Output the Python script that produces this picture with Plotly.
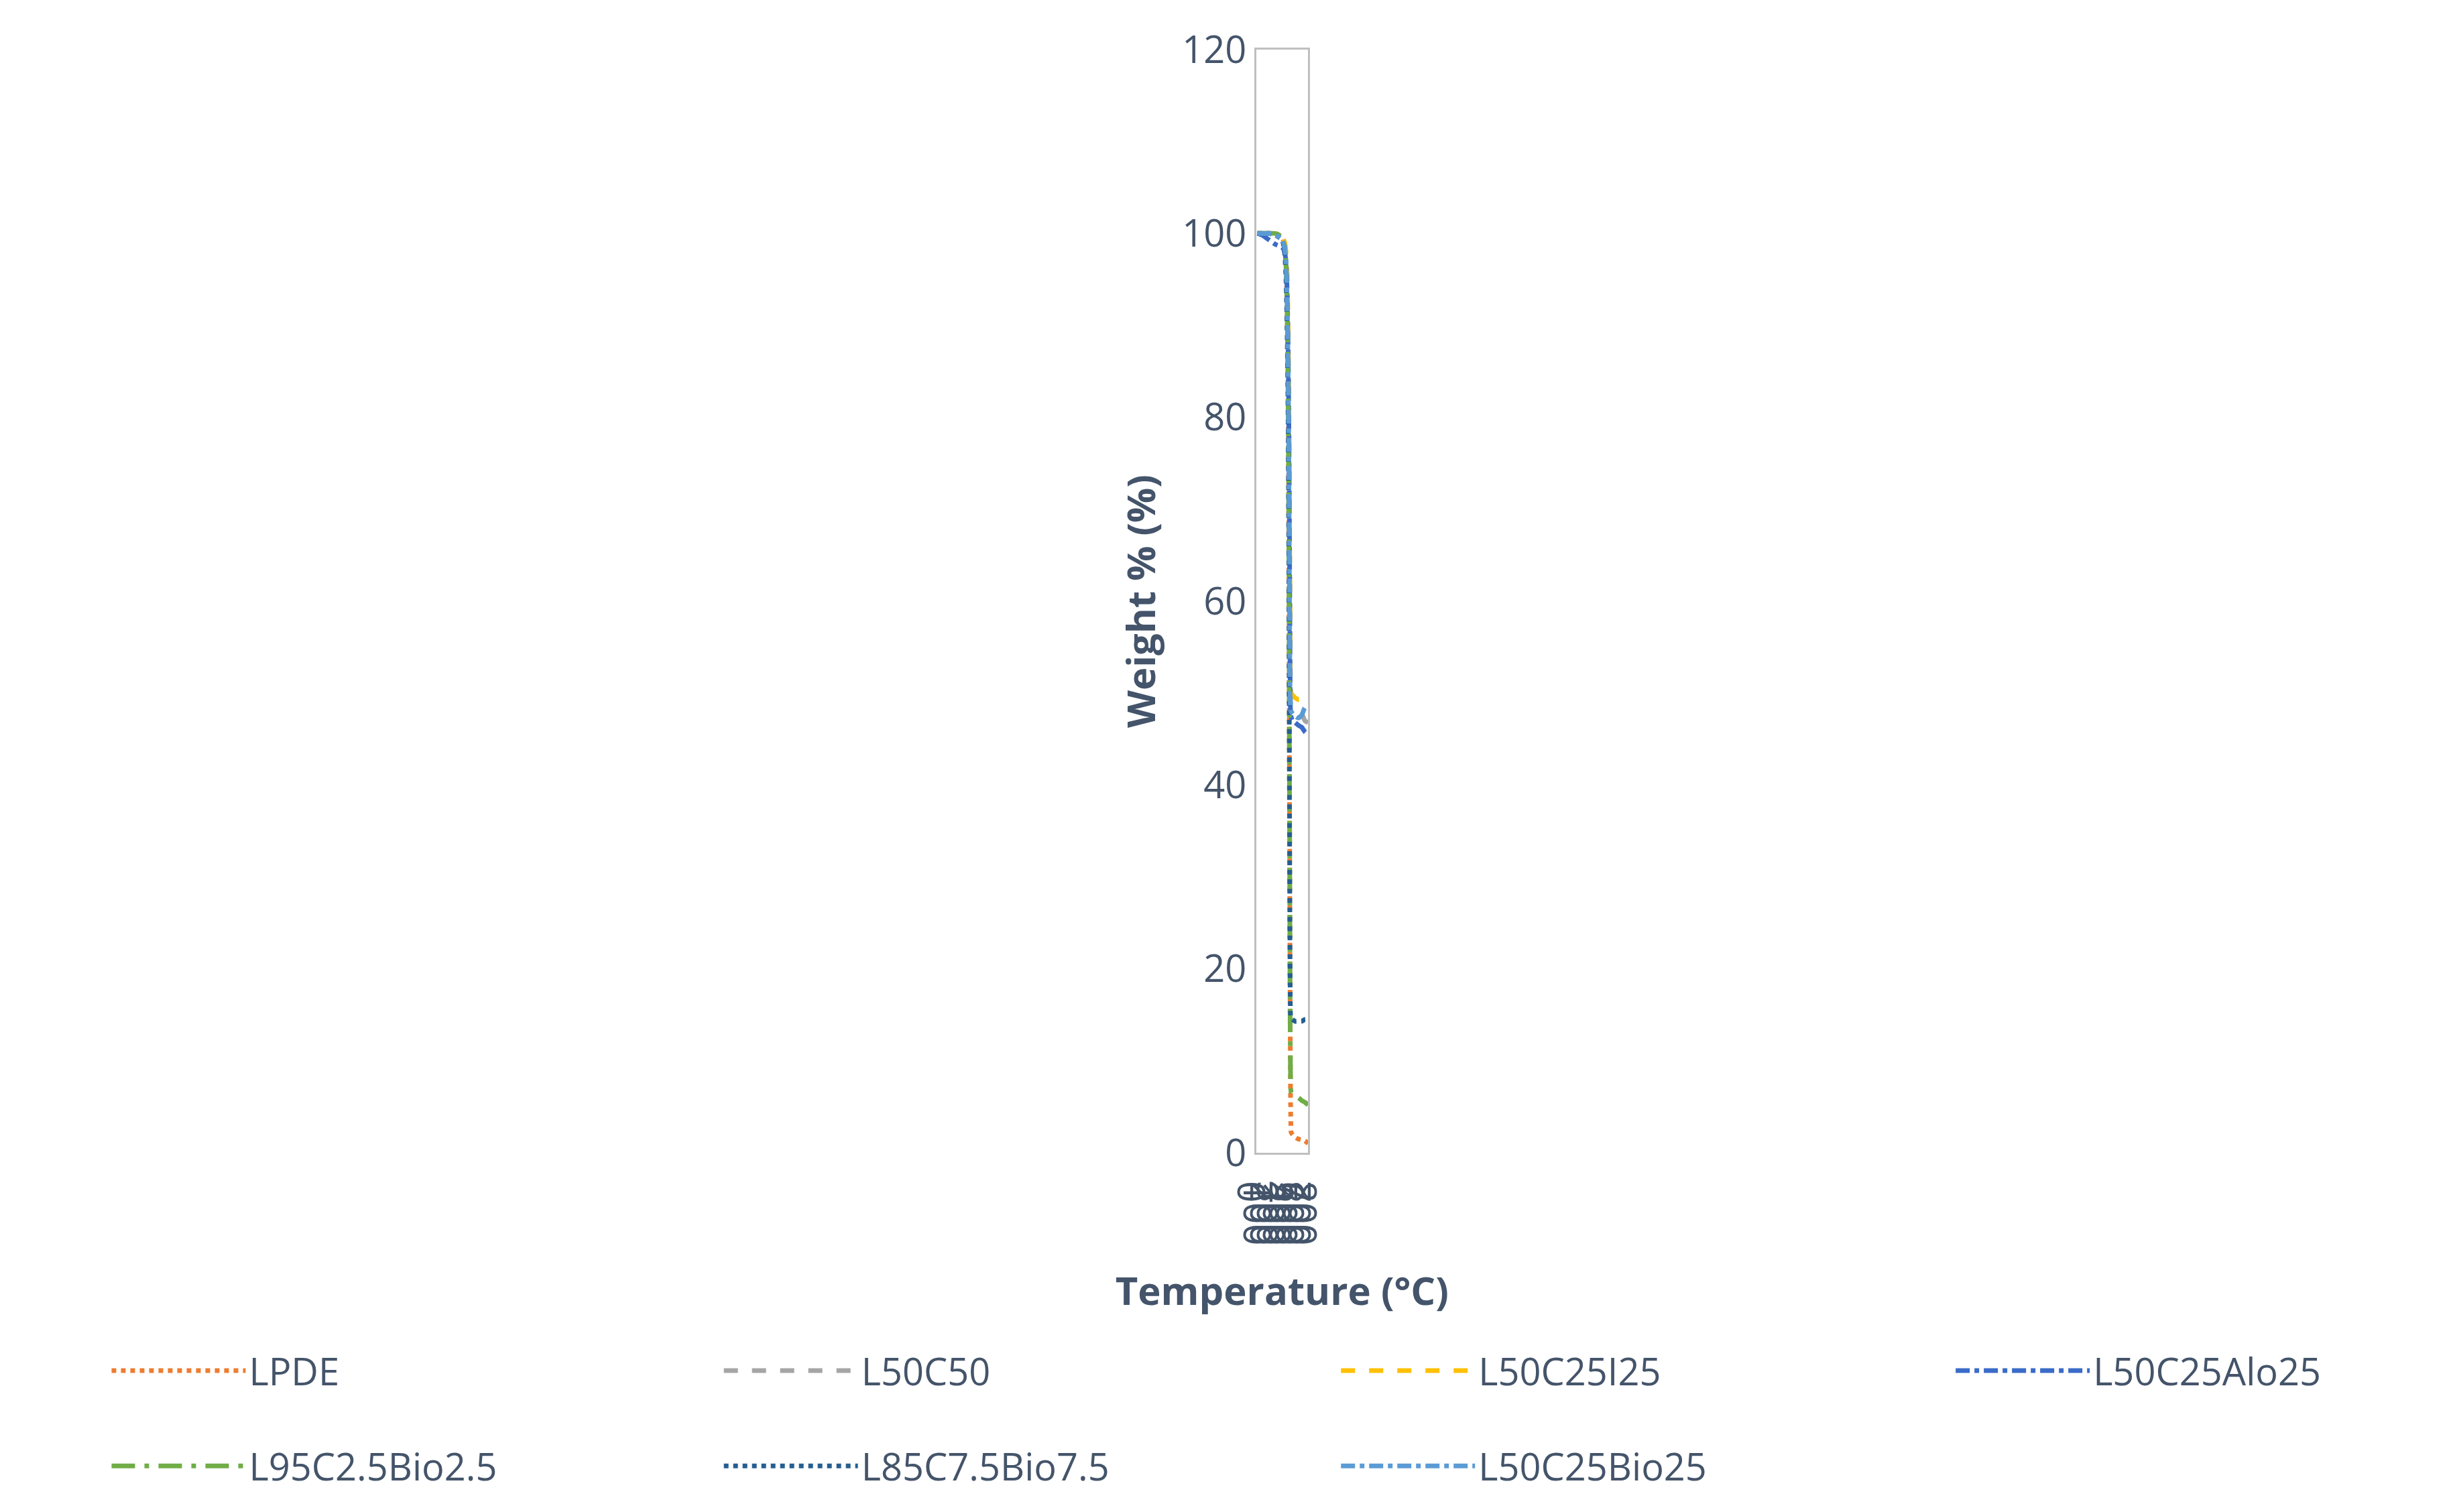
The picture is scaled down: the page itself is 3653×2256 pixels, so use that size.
import plotly.graph_objects as go

temps = [22, 100, 200, 300, 400, 440, 460, 470, 480, 490, 495, 500, 505, 510, 515, 520, 525, 530, 535, 540, 560, 600, 650, 700, 750, 800]

lpde = [100, 100, 100, 100, 99.6, 98.6, 96.5, 94, 90, 84, 79, 73, 63, 50, 37, 24, 13, 6, 3, 2.2, 2.0, 1.7, 1.5, 1.4, 1.3, 1.0]
l50c50 = [100, 100, 100, 99.8, 99.5, 98.8, 97.5, 96, 93.5, 89, 86, 83, 78.5, 73, 66, 58, 51, 49, 48.7, 48.5, 48.4, 48.2, 48.0, 47.8, 47.0, 46.8]
l50c25i25 = [100, 100, 100, 99.9, 99.6, 99.0, 98, 97, 95, 91, 88, 85, 80.5, 75, 68, 60, 53, 51, 50.2, 50, 49.8, 49.5, 49.3, 49.3, 49.0, 48.8]
l50c25alo25 = [100, 99.8, 99.3, 98.8, 98.5, 98.0, 96.8, 95.5, 93, 89, 86, 82.5, 78, 72, 65, 57, 50, 47.8, 47.5, 47.4, 47.0, 46.8, 46.5, 46.3, 45.8, 45.5]
l95 = [100, 100, 100, 100, 99.6, 98.6, 96.5, 94, 90, 84, 79, 73, 63, 50, 37, 24, 13, 8, 6.8, 6.5, 6.3, 6.1, 6.0, 5.7, 5.5, 5.2]
l85 = [100, 100, 100, 99.8, 99.3, 97.8, 95, 92, 88, 82, 77.5, 71, 61, 48, 35, 24, 17, 15, 14.7, 14.6, 14.5, 14.3, 14.3, 14.3, 14.5, 14.5]
l50c25bio25 = [100, 100, 100, 99.8, 99.4, 98.5, 97, 95, 92, 87, 84, 80, 74, 67, 59, 52, 49, 48.3, 48.1, 48, 47.8, 47.5, 47.3, 47.6, 48.4, 48.6]

series = [
    ("LPDE", lpde, "#ED7D31", "dot"),
    ("L50C50", l50c50, "#A5A5A5", "dash"),
    ("L50C25I25", l50c25i25, "#FFC000", "dash"),
    ("L50C25Alo25", l50c25alo25, "#3A6BC8", "dashdot"),
    ("L95C2.5Bio2.5", l95, "#70AD47", "longdashdot"),
    ("L85C7.5Bio7.5", l85, "#255E91", "dot"),
    ("L50C25Bio25", l50c25bio25, "#5B9BD5", "dashdot"),
]

fc = "#44546A"
leg_x = [0.042, 0.292, 0.544, 0.795, 0.042, 0.292, 0.544]
leg_y = [0.097, 0.097, 0.097, 0.097, 0.034, 0.034, 0.034]

fig = go.Figure()
layout_legends = {}
for i, (name, ys, col, dash) in enumerate(series):
    lid = "legend" if i == 0 else f"legend{i+1}"
    fig.add_trace(go.Scatter(x=temps, y=ys, name=name, mode="lines", legend=lid,
                             line=dict(color=col, dash=dash, width=7, shape="spline", smoothing=0.6)))
    layout_legends[lid] = dict(xref="container", yref="container", x=leg_x[i], y=leg_y[i],
                               xanchor="left", yanchor="middle", itemwidth=200,
                               font=dict(size=56, color=fc), bgcolor="rgba(0,0,0,0)")

fig.update_layout(
    width=3653, height=2256,
    paper_bgcolor="white", plot_bgcolor="white",
    margin=dict(l=340, r=81, t=66, b=544),
    font=dict(family="Open Sans", color=fc, size=56),
    showlegend=True,
    xaxis=dict(range=[0, 800], dtick=100, showgrid=False, showline=True, linecolor="#BFBFBF", linewidth=3,
               mirror=True, ticks="", title=dict(text="<b>Temperature (°C)</b>", font=dict(size=58, color=fc), standoff=50)),
    yaxis=dict(range=[0, 120], dtick=20, showgrid=False, showline=True, linecolor="#BFBFBF", linewidth=3,
               mirror=True, ticks="", zeroline=False, title=dict(text="<b>Weight % (%)</b>", font=dict(size=58, color=fc), standoff=50)),
    **layout_legends,
)
fig.write_html("out.html")
